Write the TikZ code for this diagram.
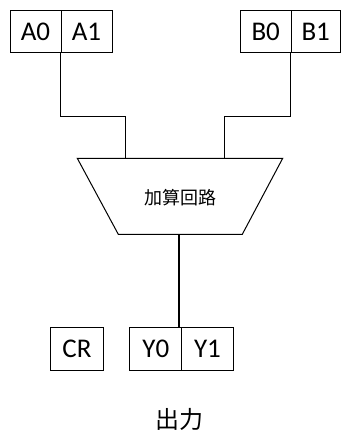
\documentclass[tikz,border=0pt]{standalone}
\usepackage{fontspec}
\setmainfont{Carlito}
\newfontfamily\cjk{Noto Sans CJK JP}
\begin{document}
\begin{tikzpicture}[x=1pt,y=-1pt,
  cell/.style={draw, line width=1pt, inner sep=0pt, minimum height=42pt, font=\fontsize{27}{27}\selectfont},
  wire/.style={line width=1pt},
  owire/.style={line width=2pt}]
\useasboundingbox (0,0) rectangle (341,432);
\node[cell, minimum width=51pt] (A0) at (35.5,31.7) {A0};
\node[cell, minimum width=51pt] (A1) at (86.5,31.7) {A1};
\node[cell, minimum width=51pt] (B0) at (265.7,31.7) {B0};
\node[cell, minimum width=49pt] (B1) at (315.7,31.7) {B1};
\node[cell, minimum width=52.6pt, minimum height=43.3pt] (CR) at (77,349.3) {CR};
\node[cell, minimum width=51.7pt, minimum height=43.3pt] (Y0) at (155.8,349.3) {Y0};
\node[cell, minimum width=51.7pt, minimum height=43.3pt] (Y1) at (207.5,349.3) {Y1};
\coordinate (tl) at (77.3,158.3);
\coordinate (tr) at (282.7,158.3);
\coordinate (br) at (242.3,234.3);
\coordinate (bl) at (118.3,234.3);
\draw[wire] (tl) -- (tr) -- (br) -- (bl) -- cycle;
\node[font=\cjk\fontsize{18}{18}\selectfont] (adder) at (180,198) {加算回路};
\coordinate (aIn) at (125,158.3);
\coordinate (bIn) at (224,158.3);
\coordinate (outp) at (179,234.3);
\draw[wire] ([xshift=-1.5pt]A0.south east) -- ++(0,63) -| (aIn);
\draw[wire] ([xshift=-1.5pt]B0.south east) -- ++(0,63) -| (bIn);
\draw[owire] (outp) -- (outp |- Y0.north);
\node[font=\cjk\fontsize{24}{24}\selectfont] (out) at (179,419) {出力};
\end{tikzpicture}
\end{document}
